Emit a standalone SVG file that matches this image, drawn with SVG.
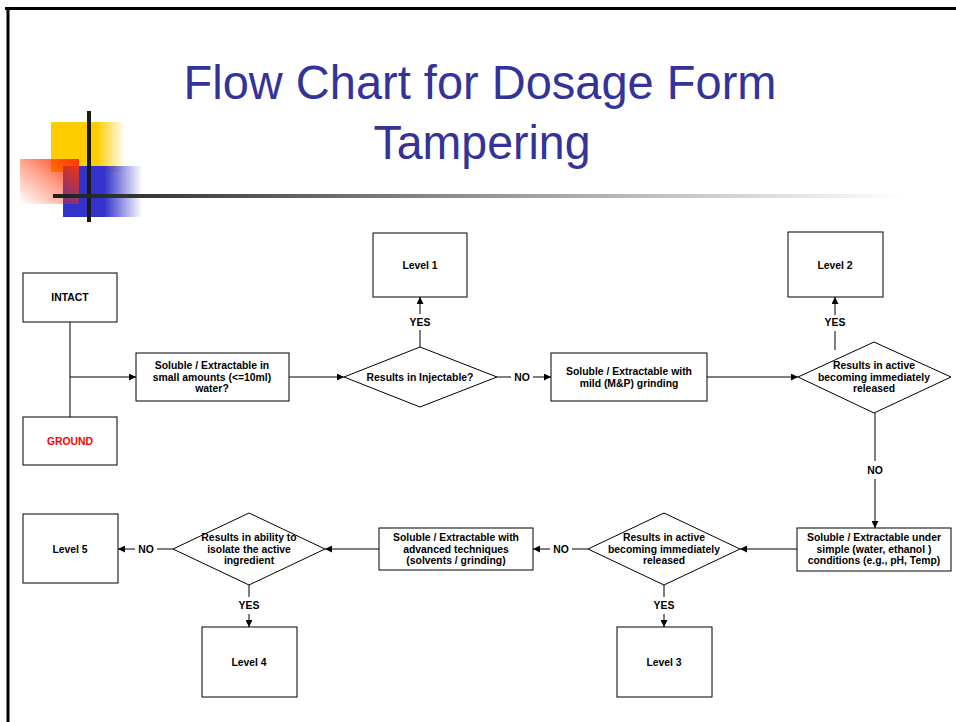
<svg xmlns="http://www.w3.org/2000/svg" width="956" height="722" viewBox="0 0 956 722">
<defs>
<linearGradient id="gYel" x1="0" y1="0" x2="1" y2="0">
<stop offset="0" stop-color="#ffcc00"/>
<stop offset="0.62" stop-color="#ffcc00"/>
<stop offset="1" stop-color="#ffcc00" stop-opacity="0"/>
</linearGradient>
<linearGradient id="gBlue" x1="0" y1="0" x2="1" y2="0">
<stop offset="0" stop-color="#3333cc"/>
<stop offset="0.52" stop-color="#3333cc"/>
<stop offset="1" stop-color="#3333cc" stop-opacity="0"/>
</linearGradient>
<linearGradient id="gRed" x1="1" y1="0" x2="0" y2="1">
<stop offset="0" stop-color="#ff3300" stop-opacity="1"/>
<stop offset="0.5" stop-color="#ff3300" stop-opacity="0.45"/>
<stop offset="1" stop-color="#ff3300" stop-opacity="0"/>
</linearGradient>
<linearGradient id="gBar" x1="0" y1="0" x2="1" y2="0">
<stop offset="0" stop-color="#1e1e1e"/>
<stop offset="0.45" stop-color="#888888"/>
<stop offset="1" stop-color="#ffffff"/>
</linearGradient>
<marker id="arr" viewBox="0 0 10 10" refX="10" refY="5" markerWidth="7" markerHeight="7" markerUnits="userSpaceOnUse" orient="auto">
<path d="M0,0 L10,5 L0,10 z" fill="#000"/>
</marker>
<style>
.box{fill:#fff;stroke:#000;stroke-width:1}
.t{font-family:"Liberation Sans",Arial,sans-serif;font-weight:bold;font-size:10.4px;text-anchor:middle;fill:#000}
.c{fill:none;stroke:#000;stroke-width:1}
.lbl{font-family:"Liberation Sans",Arial,sans-serif;font-weight:bold;font-size:10.4px;fill:#000}
</style>
</defs>
<rect width="956" height="722" fill="#fff"/>
<!-- frame -->
<path d="M5,8.5 H956 M8,8 V722" stroke="#000" stroke-width="3" fill="none"/>
<!-- decoration -->
<g id="decoration">
<rect x="51" y="122" width="74" height="50" fill="url(#gYel)"/>
<rect x="63" y="166" width="79" height="51" fill="url(#gBlue)"/>
<rect x="20" y="159" width="59" height="45" fill="url(#gRed)"/>
<rect x="87" y="111" width="4" height="111" fill="#1a1a1a"/>
<rect x="53" y="194" width="850" height="4" fill="url(#gBar)"/>
</g>
<!-- title -->
<g id="title" font-family="'Liberation Sans',Arial,sans-serif" font-size="49" fill="#333399" text-anchor="middle">
<text x="480" y="99" textLength="593" lengthAdjust="spacingAndGlyphs">Flow Chart for Dosage Form</text>
<text x="482" y="159" textLength="217" lengthAdjust="spacingAndGlyphs">Tampering</text>
</g>
<!-- connectors -->
<g id="connectors">
<path class="c" d="M70,322 V417"/>
<path class="c" d="M70,377 H136" marker-end="url(#arr)"/>
<path class="c" d="M289,377 H344" marker-end="url(#arr)"/>
<path class="c" d="M420,347 V330"/>
<text class="lbl" x="420" y="326" text-anchor="middle">YES</text>
<path class="c" d="M420,314 V297" marker-end="url(#arr)"/>
<path class="c" d="M497,377 H511"/>
<text class="lbl" x="522" y="381" text-anchor="middle">NO</text>
<path class="c" d="M533,377 H551" marker-end="url(#arr)"/>
<path class="c" d="M707,377 H798" marker-end="url(#arr)"/>
<path class="c" d="M835,350 V331"/>
<text class="lbl" x="835" y="326" text-anchor="middle">YES</text>
<path class="c" d="M835,315 V297" marker-end="url(#arr)"/>
<path class="c" d="M875,413 V461"/>
<text class="lbl" x="875" y="474" text-anchor="middle">NO</text>
<path class="c" d="M875,479 V528" marker-end="url(#arr)"/>
<path class="c" d="M797,549 H740" marker-end="url(#arr)"/>
<path class="c" d="M664,585 V597"/>
<text class="lbl" x="664" y="609" text-anchor="middle">YES</text>
<path class="c" d="M664,614 V627" marker-end="url(#arr)"/>
<path class="c" d="M588,549 H572"/>
<text class="lbl" x="561" y="553" text-anchor="middle">NO</text>
<path class="c" d="M550,549 H533" marker-end="url(#arr)"/>
<path class="c" d="M379,549 H325" marker-end="url(#arr)"/>
<path class="c" d="M249,585 V597"/>
<text class="lbl" x="249" y="609" text-anchor="middle">YES</text>
<path class="c" d="M249,614 V627" marker-end="url(#arr)"/>
<path class="c" d="M173,549 H157"/>
<text class="lbl" x="146" y="553" text-anchor="middle">NO</text>
<path class="c" d="M135,549 H118" marker-end="url(#arr)"/>
</g>
<!-- nodes -->
<g id="intact">
<rect class="box" x="23" y="273" width="94" height="49"/>
<text class="t" x="70" y="300.5">INTACT</text>
</g>
<g id="ground">
<rect class="box" x="23" y="417" width="94" height="48"/>
<text class="t" x="70" y="444.5" style="fill:#ff0000">GROUND</text>
</g>
<g id="soluble-water">
<rect class="box" x="136" y="353" width="153" height="48"/>
<text class="t" x="212" y="369">Soluble / Extractable in</text>
<text class="t" x="212" y="380.5">small amounts (&lt;=10ml)</text>
<text class="t" x="212" y="392">water?</text>
</g>
<g id="injectable">
<polygon class="box" points="420,347 497,377 420,407 344,377"/>
<text class="t" x="420" y="381">Results in Injectable?</text>
</g>
<g id="level1">
<rect class="box" x="373" y="233" width="94" height="64"/>
<text class="t" x="420" y="268.5">Level 1</text>
</g>
<g id="soluble-mild">
<rect class="box" x="551" y="353" width="156" height="48"/>
<text class="t" x="629" y="375">Soluble / Extractable with</text>
<text class="t" x="629" y="386.5">mild (M&amp;P) grinding</text>
</g>
<g id="immediate1">
<polygon class="box" points="874,342 951,377 874,413 798,377"/>
<text class="t" x="874" y="369">Results in active</text>
<text class="t" x="874" y="380.5">becoming immediately</text>
<text class="t" x="874" y="392">released</text>
</g>
<g id="level2">
<rect class="box" x="788" y="232" width="95" height="65"/>
<text class="t" x="835" y="268.5">Level 2</text>
</g>
<g id="soluble-simple">
<rect class="box" x="797" y="528" width="154" height="43"/>
<text class="t" x="874" y="541">Soluble / Extractable under</text>
<text class="t" x="874" y="552.5">simple (water, ethanol )</text>
<text class="t" x="874" y="564">conditions (e.g., pH, Temp)</text>
</g>
<g id="immediate2">
<polygon class="box" points="664,513 740,549 664,585 588,549"/>
<text class="t" x="664" y="541">Results in active</text>
<text class="t" x="664" y="552.5">becoming immediately</text>
<text class="t" x="664" y="564">released</text>
</g>
<g id="level3">
<rect class="box" x="617" y="627" width="95" height="70"/>
<text class="t" x="664" y="665.5">Level 3</text>
</g>
<g id="soluble-advanced">
<rect class="box" x="379" y="528" width="154" height="42"/>
<text class="t" x="456" y="541">Soluble / Extractable with</text>
<text class="t" x="456" y="552.5">advanced techniques</text>
<text class="t" x="456" y="564">(solvents / grinding)</text>
</g>
<g id="isolate">
<polygon class="box" points="249,513 325,549 249,585 173,549"/>
<text class="t" x="249" y="541">Results in ability to</text>
<text class="t" x="249" y="552.5">isolate the active</text>
<text class="t" x="249" y="564">ingredient</text>
</g>
<g id="level4">
<rect class="box" x="202" y="627" width="95" height="70"/>
<text class="t" x="249" y="665.5">Level 4</text>
</g>
<g id="level5">
<rect class="box" x="23" y="514" width="95" height="69"/>
<text class="t" x="70" y="552.5">Level 5</text>
</g>
</svg>
